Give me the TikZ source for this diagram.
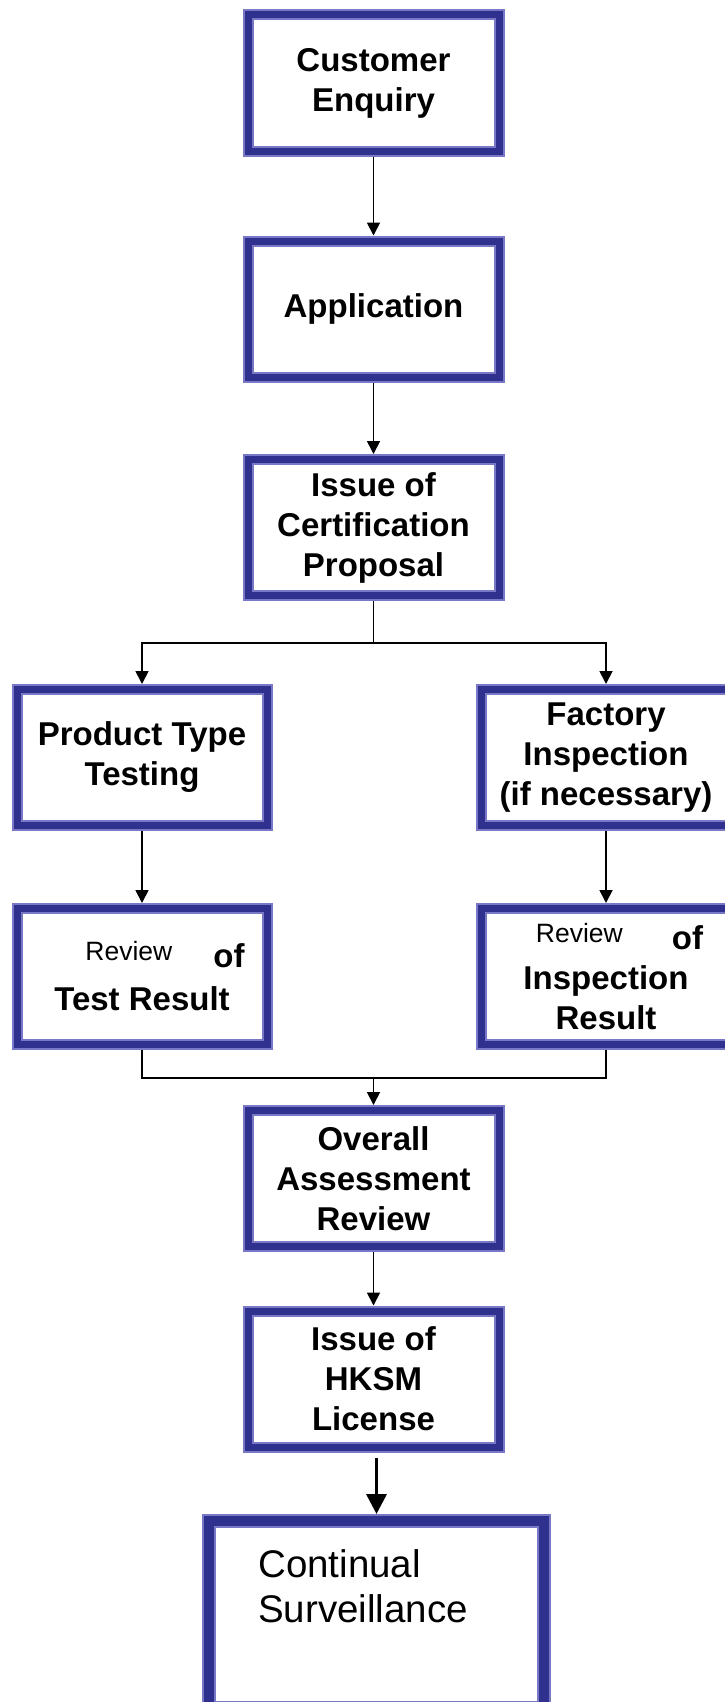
\documentclass[tikz,border=0pt]{standalone}
\usepackage{fontspec}
\setmainfont{Liberation Sans}
\usetikzlibrary{arrows.meta}
\definecolor{navy}{HTML}{30308F}
\definecolor{navylight}{HTML}{7878C6}
\newcommand\smrev[1]{\raisebox{7pt}{\fontsize{26.5}{27}\selectfont\mdseries #1}}
\begin{document}
\begin{tikzpicture}[x=1pt,y=-1pt,
  box/.style={rectangle, minimum width=251pt, minimum height=136pt, inner sep=0pt, outer sep=5.5pt,
    preaction={fill=white}, preaction={draw=navylight, line width=11pt}, draw=navy, line width=7pt,
    font=\fontsize{33}{40}\selectfont\bfseries, align=center, text=black},
  sidebox/.style={box, minimum width=250pt},
  bigbox/.style={box, minimum width=335pt, minimum height=187pt, outer sep=7pt,
    preaction={draw=navylight, line width=14pt}, line width=10pt},
  conn/.style={draw=black, line width=1.8pt},
  arr/.style={conn, -{Triangle[width=13pt,length=13pt]}},
  bigarr/.style={draw=black, line width=3.5pt, -{Triangle[width=20pt,length=20pt]}},
  plain/.style={anchor=north west, inner sep=0pt, align=left, text=black,
    font=\fontsize{38.5}{45}\selectfont\mdseries}]
\useasboundingbox (0,0) rectangle (725,1702);
\node[box] (cust) at (373.5,83) {Customer\\Enquiry};
\node[box] (app) at (373.5,309) {Application};
\node[box] (iss) at (373.5,527.5) {Issue of\\Certification\\Proposal};
\node[sidebox] (prod) at (142,757.5) {Product Type\\Testing};
\node[sidebox] (fact) at (606,757.5) {Factory\\Inspection\\(if necessary)};
\node[sidebox] (rtest) at (142,976.5) {\hspace*{46pt}\smrev{Review}\hspace{41pt}of\\[3pt]Test Result};
\node[sidebox] (rinsp) at (606,976.5) {\hspace*{27pt}\smrev{Review}\hspace{49pt}of\\Inspection\\Result};
\node[box] (over) at (373.5,1178.5) {Overall\\Assessment\\Review};
\node[box] (hksm) at (373.5,1379) {Issue of\\HKSM\\License};
\node[bigbox, label={[plain, xshift=56pt, yshift=-35pt]north west:{Continual\\Surveillance}}] (cont) at (376.5,1614.5) {};
\coordinate (split) at (373.5,643);
\coordinate (merge) at (373.5,1078);
\coordinate (hk) at ([yshift=-5pt]hksm.south);
\draw[arr] (cust) -- (app);
\draw[arr] (app) -- (iss);
\draw[conn] (iss) -- (split);
\draw[arr] (split) -| (prod.north);
\draw[arr] (split) -| (fact.north);
\draw[arr] (prod) -- (rtest);
\draw[arr] (fact) -- (rinsp);
\draw[conn] (rtest.south) |- (merge) -| (rinsp.south);
\draw[arr] (merge) -- (over);
\draw[arr] (over) -- (hksm);
\draw[bigarr] (hk -| cont.north) -- (cont.north);
\end{tikzpicture}
\end{document}
